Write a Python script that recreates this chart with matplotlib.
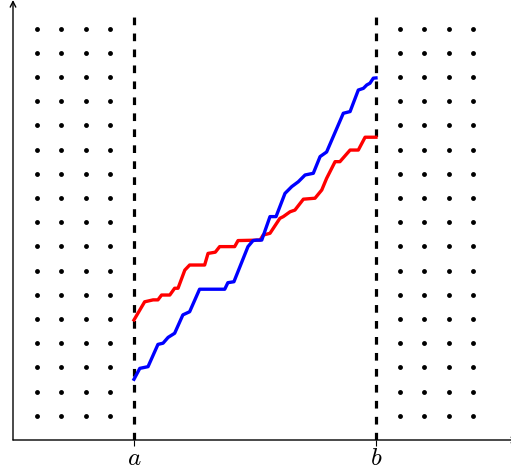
import numpy as np
import matplotlib
matplotlib.use("Agg")
import matplotlib.pyplot as plt

plt.rcParams['mathtext.fontset'] = 'cm'

# interval ends
a, b = 5, 15

# dot grid outside [a, b]
dot_cols_left = [1, 2, 3, 4]
dot_cols_right = [16, 17, 18, 19]
dot_rows = list(range(1, 18))

# red path
red_x = [5.0, 5.24, 5.44, 5.79, 5.99, 6.14, 6.48, 6.68, 6.82, 7.10, 7.30, 7.92,
         8.06, 8.36, 8.54, 9.16, 9.30, 10.21, 10.34, 10.62, 11.03, 11.17, 11.45,
         11.65, 12.0, 12.48, 12.76, 12.96, 13.31, 13.51, 13.93, 14.27, 14.55, 15.0]
red_y = [4.96, 5.37, 5.71, 5.79, 5.79, 5.99, 5.99, 6.27, 6.27, 7.02, 7.23, 7.23,
         7.71, 7.76, 7.99, 7.99, 8.24, 8.26, 8.47, 8.54, 9.16, 9.23, 9.43,
         9.50, 9.95, 9.99, 10.33, 10.81, 11.50, 11.50, 11.98, 11.98, 12.51, 12.51]

# blue path
blue_x = [5.0, 5.24, 5.58, 5.99, 6.20, 6.41, 6.68, 7.02, 7.30, 7.71, 8.75, 8.88,
          9.13, 9.71, 9.92, 10.07, 10.28, 10.62, 10.87, 11.24, 11.52, 11.79, 12.07,
          12.41, 12.69, 12.96, 13.65, 13.93, 14.27, 14.48, 14.62, 14.75, 14.89, 15.0]
blue_y = [2.51, 2.96, 3.03, 3.95, 4.0, 4.24, 4.41, 5.17, 5.30, 6.23, 6.23, 6.50,
          6.54, 7.99, 8.24, 8.26, 8.26, 9.23, 9.23, 10.19, 10.47, 10.67, 10.95,
          11.02, 11.71, 11.90, 13.50, 13.57, 14.46, 14.53, 14.67, 14.74, 14.95, 14.96]

x_max, y_max = 20.58, 18.18
dash_top = 17.5

fig = plt.figure(figsize=(5.11, 4.73), dpi=100)
ax = fig.add_axes([13 / 511, 33 / 473, 498 / 511, 440 / 473])
ax.set_xlim(0, x_max)
ax.set_ylim(0, y_max)
for s in ax.spines.values():
    s.set_visible(False)

# dots
for cols in (dot_cols_left, dot_cols_right):
    gx, gy = np.meshgrid(cols, dot_rows)
    ax.plot(gx.ravel(), gy.ravel(), 'o', color='black', markersize=3.5,
            markeredgewidth=0, linestyle='none')

# dashed verticals
for xv in (a, b):
    ax.plot([xv, xv], [0, dash_top], color='black', linewidth=2.3,
            dashes=(2.4, 2.6), solid_capstyle='butt', dash_capstyle='butt')

ax.plot(red_x, red_y, color='red', linewidth=2.4)
ax.plot(blue_x, blue_y, color='blue', linewidth=2.4)

# axes with arrows (x arrow runs off the right edge)
ax.annotate('', xy=(x_max + 0.3, 0), xytext=(0, 0), annotation_clip=False,
            arrowprops=dict(arrowstyle='->', color='black', lw=1,
                            shrinkA=0, shrinkB=0))
ax.annotate('', xy=(0, y_max), xytext=(0, 0), annotation_clip=False,
            arrowprops=dict(arrowstyle='->', color='black', lw=1,
                            shrinkA=0, shrinkB=0))

ax.set_xticks([a, b])
ax.set_xticklabels(['$a$', '$b$'], fontsize=18)
ax.set_yticks([])
ax.tick_params(axis='x', direction='out', length=4.5, width=0.8, pad=0)

fig.savefig('out.png', dpi=100)
